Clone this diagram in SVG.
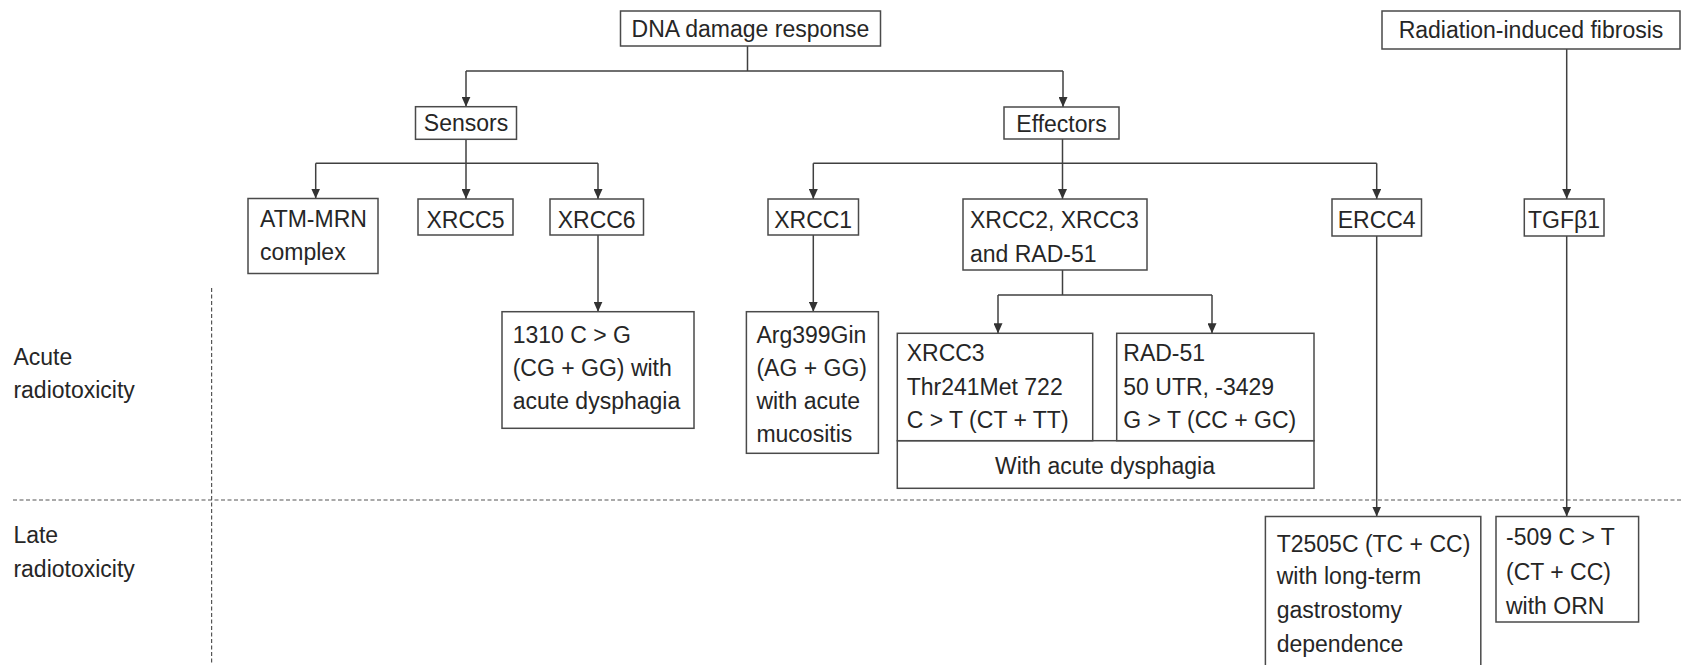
<svg xmlns="http://www.w3.org/2000/svg" width="1682" height="665" viewBox="0 0 1682 665">
<style>
.box{fill:#fff;stroke:#4a4a4a;stroke-width:1.5}
.t{font-family:"Liberation Sans",Arial,sans-serif;font-size:23px;fill:#262626}
.c{text-anchor:middle}
.ln{fill:none;stroke:#404040;stroke-width:1.5}
.ar{fill:none;stroke:#404040;stroke-width:1.5;marker-end:url(#ah)}
.dash{fill:none;stroke:#555;stroke-width:1.2;stroke-dasharray:4 2.5}
</style>
<defs>
<marker id="ah" markerUnits="userSpaceOnUse" markerWidth="10" markerHeight="9" viewBox="0 0 10 9" refX="10" refY="4.5" orient="auto">
<path d="M0,0 L10,4.5 L0,9 Z" fill="#333"/>
</marker>
</defs>
<rect width="1682" height="665" fill="#fff"/>

<g id="dividers">
<line class="dash" x1="13" y1="500" x2="1682" y2="500"/>
<line class="dash" x1="211.6" y1="288" x2="211.6" y2="665"/>
</g>

<g id="connectors">
<path class="ln" d="M747.5,46 V71 M466,71 H1063"/>
<path class="ar" d="M466,71 V106.7"/>
<path class="ar" d="M1063,71 V107"/>
<path class="ln" d="M466,139.3 V163.3 M315.7,163.3 H598"/>
<path class="ar" d="M315.7,163.3 V198.5"/>
<path class="ar" d="M466,163.3 V199"/>
<path class="ar" d="M598,163.3 V199"/>
<path class="ln" d="M1062.5,139 V163.3 M813.3,163.3 H1376.7"/>
<path class="ar" d="M813.3,163.3 V199"/>
<path class="ar" d="M1062.5,163.3 V199"/>
<path class="ar" d="M1376.7,163.3 V199"/>
<path class="ar" d="M1566.7,49 V199"/>
<path class="ar" d="M598,235 V311.7"/>
<path class="ar" d="M813.3,235 V311.7"/>
<path class="ln" d="M1062.5,270 V295 M998,295 H1212"/>
<path class="ar" d="M998,295 V333.3"/>
<path class="ar" d="M1212,295 V333.3"/>
<path class="ar" d="M1376.7,236 V516.5"/>
<path class="ar" d="M1566.7,236 V516.5"/>
</g>

<g id="n-dna"><rect class="box" x="620.5" y="11" width="260" height="35"/><text class="t c" x="750.5" y="37">DNA damage response</text></g>
<g id="n-rif"><rect class="box" x="1382" y="11" width="298" height="38"/><text class="t c" x="1531" y="38">Radiation-induced fibrosis</text></g>
<g id="n-sensors"><rect class="box" x="415.5" y="106.7" width="101" height="32.6"/><text class="t c" x="466" y="131">Sensors</text></g>
<g id="n-effectors"><rect class="box" x="1004" y="107" width="115" height="32"/><text class="t c" x="1061.5" y="131.5">Effectors</text></g>
<g id="n-atm"><rect class="box" x="248" y="198.5" width="130" height="75"/><text class="t" x="260" y="227">ATM-MRN</text><text class="t" x="260" y="260">complex</text></g>
<g id="n-xrcc5"><rect class="box" x="418" y="199" width="95" height="36"/><text class="t c" x="465.5" y="228">XRCC5</text></g>
<g id="n-xrcc6"><rect class="box" x="550" y="199" width="93.5" height="36"/><text class="t c" x="596.7" y="228">XRCC6</text></g>
<g id="n-xrcc1"><rect class="box" x="768" y="199" width="90.5" height="36"/><text class="t c" x="813.2" y="228">XRCC1</text></g>
<g id="n-xrcc23"><rect class="box" x="963" y="199" width="184" height="71"/><text class="t" x="970" y="228">XRCC2, XRCC3</text><text class="t" x="970" y="262">and RAD-51</text></g>
<g id="n-ercc4"><rect class="box" x="1332" y="199" width="89.5" height="37"/><text class="t c" x="1376.7" y="228">ERCC4</text></g>
<g id="n-tgf"><rect class="box" x="1524.3" y="199" width="79.7" height="37"/><text class="t c" x="1564" y="228">TGFβ1</text></g>

<g id="n-1310"><rect class="box" x="502" y="311.7" width="192" height="116.6"/><text class="t" x="512.7" y="343">1310 C &gt; G</text><text class="t" x="512.7" y="376">(CG + GG) with</text><text class="t" x="512.7" y="409">acute dysphagia</text></g>
<g id="n-arg"><rect class="box" x="746.4" y="311.7" width="132" height="141.6"/><text class="t" x="756.4" y="343">Arg399Gin</text><text class="t" x="756.4" y="376">(AG + GG)</text><text class="t" x="756.4" y="409">with acute</text><text class="t" x="756.4" y="442">mucositis</text></g>
<g id="n-dysphagia"><rect class="box" x="897.3" y="440.7" width="416.7" height="47.6"/><text class="t c" x="1105" y="474">With acute dysphagia</text></g>
<g id="n-xrcc3"><rect class="box" x="897.3" y="333.3" width="195.4" height="107.4"/><text class="t" x="906.7" y="361">XRCC3</text><text class="t" x="906.7" y="395">Thr241Met 722</text><text class="t" x="906.7" y="428">C &gt; T (CT + TT)</text></g>
<g id="n-rad51"><rect class="box" x="1116.7" y="333.3" width="197.3" height="107.4"/><text class="t" x="1123.3" y="361">RAD-51</text><text class="t" x="1123.3" y="395">50 UTR, -3429</text><text class="t" x="1123.3" y="428">G &gt; T (CC + GC)</text></g>
<g id="n-t2505c"><rect class="box" x="1265.4" y="516.5" width="215.4" height="170"/><text class="t" x="1276.7" y="551.7">T2505C (TC + CC)</text><text class="t" x="1276.7" y="584">with long-term</text><text class="t" x="1276.7" y="617.5">gastrostomy</text><text class="t" x="1276.7" y="651.5">dependence</text></g>
<g id="n-509"><rect class="box" x="1496" y="516.5" width="142.6" height="105.5"/><text class="t" x="1506" y="545">-509 C &gt; T</text><text class="t" x="1506" y="580">(CT + CC)</text><text class="t" x="1506" y="614">with ORN</text></g>

<g id="labels">
<text class="t" x="13.4" y="365">Acute</text><text class="t" x="13.4" y="398.3">radiotoxicity</text>
<text class="t" x="13.4" y="543.3">Late</text><text class="t" x="13.4" y="576.7">radiotoxicity</text>
</g>
</svg>
